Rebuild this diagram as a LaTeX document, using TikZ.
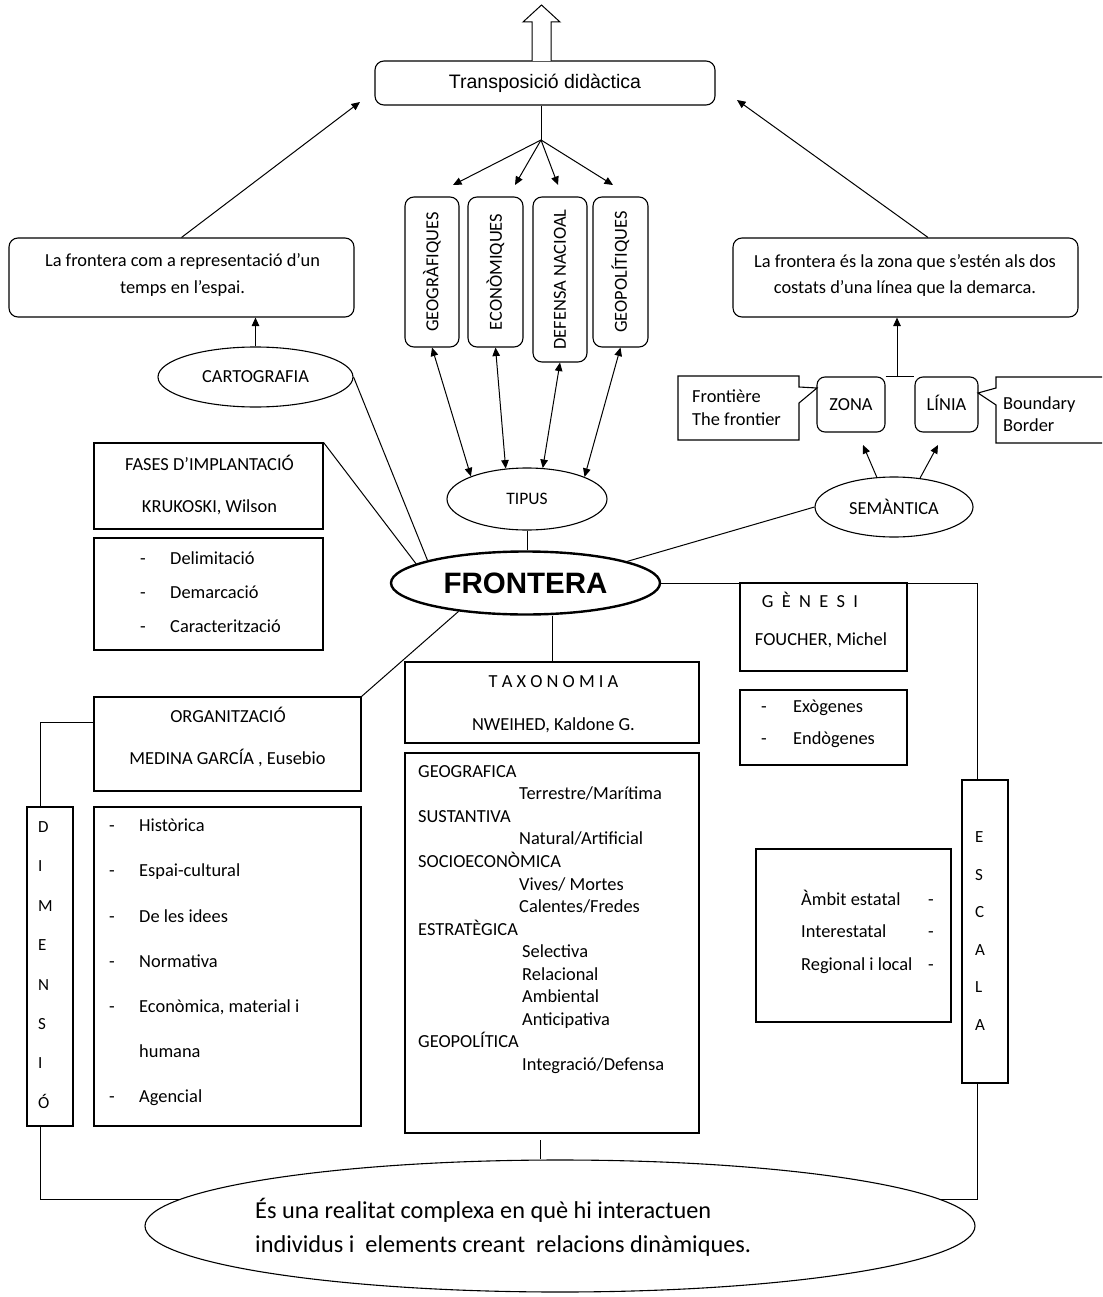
\documentclass[tikz,border=0pt]{standalone}
\usepackage{fontspec}
\setmainfont{Carlito}
\newfontfamily\arialf{Liberation Sans}
\usetikzlibrary{shapes.geometric,arrows.meta}
\begin{document}
\begin{tikzpicture}[x=1pt,y=-1pt,
  every node/.style={font=\fontsize{18.4}{22}\selectfont, inner sep=0pt},
  bx/.style={draw, line width=1.1pt},
  rbx/.style={draw, line width=1.1pt, rounded corners=9pt},
  ell/.style={draw, ellipse, line width=1.1pt},
  ln/.style={line width=1pt},
  arr/.style={line width=1pt, -{Triangle[length=8.5pt,width=7.5pt]}},
  darr/.style={line width=1pt, {Triangle[length=8.5pt,width=7.5pt]}-{Triangle[length=8.5pt,width=7.5pt]}},
]
\useasboundingbox (0,0) rectangle (1102,1297);

% ---------- top ----------
\node[rbx, minimum width=340pt, minimum height=44pt, font=\arialf\fontsize{19.5}{22}\selectfont] (tr) at (545,83) {Transposició didàctica};
\draw[line width=1pt, fill=white] (532,61) -- (532,22) -- (523,22) -- (541.5,5) -- (560,22) -- (551,22) -- (551,61);

\node[rbx, minimum width=54pt, minimum height=150pt] (g1) at (432,272) {\rotatebox{90}{GEOGRÀFIQUES}};
\node[rbx, minimum width=55pt, minimum height=150pt] (g2) at (495.5,272) {\rotatebox{90}{ECONÒMIQUES}};
\node[rbx, minimum width=54pt, minimum height=165pt] (g3) at (560,279.5) {\rotatebox{90}{DEFENSA NACIOAL}};
\node[rbx, minimum width=55pt, minimum height=150pt] (g4) at (620.5,272) {\rotatebox{90}{GEOPOLÍTIQUES}};

\coordinate (br) at (541,140);
\coordinate (a1) at (453,185);
\coordinate (a2) at (515,185);
\coordinate (a3) at (558,185);
\coordinate (a4) at (613,185);
\draw[ln] (tr.south -| br) -- (br);
\draw[arr] (br) -- (a1);
\draw[arr] (br) -- (a2);
\draw[arr] (br) -- (a3);
\draw[arr] (br) -- (a4);

% ---------- side boxes ----------
\node[rbx, minimum width=345pt, minimum height=79pt] (lbox) at (181.5,277.5) {};
\node[align=center, font=\fontsize{18.4}{26.5}\selectfont] (lboxt) at (182.5,275) {La frontera com a representació d’un\\temps en l’espai.};
\node[rbx, minimum width=345pt, minimum height=79pt] (rbox) at (905.5,277.5) {};
\node[align=center, font=\fontsize{18.4}{26.5}\selectfont] (rboxt) at (905,275.5) {La frontera és la zona que s’estén als dos\\costats d’una línea que la demarca.};

\coordinate (tl) at (360,102);
\coordinate (rs) at (928,0);
\coordinate (trr) at (737,100);
\draw[arr] (lbox.north) -- (tl);
\draw[arr] (rbox.north -| rs) -- (trr);

% ---------- ellipses ----------
\node[ell, minimum width=195pt, minimum height=60pt] (carto) at (255.5,377) {CARTOGRAFIA};
\node[ell, minimum width=160pt, minimum height=62pt, font=\fontsize{17.5}{22}\selectfont] (tipus) at (527,499) {TIPUS};
\node[ell, minimum width=158pt, minimum height=60pt] (sem) at (894,507) {SEMÀNTICA};
\node[ell, line width=2.4pt, minimum width=269pt, minimum height=63pt, font=\arialf\bfseries\fontsize{29.5}{30}\selectfont] (front) at (525.5,583) {FRONTERA};

\draw[arr] (carto.north) -- (carto.north |- lbox.south);
\draw[darr] (g1.south) -- (tipus.158);
\draw[darr] (g2.south) -- (tipus.125);
\draw[darr] (g3.south) -- (tipus.63);
\draw[darr] (g4.south) -- (tipus.21);
\draw[ln] (tipus.south) -- (tipus.south |- front.north);

% ---------- semantica ----------
\node[rbx, rounded corners=8pt, minimum width=68pt, minimum height=55pt, text height=12pt, text depth=0pt] (zona) at (851,404.5) {ZONA};
\node[rbx, rounded corners=8pt, minimum width=63pt, minimum height=55pt, text height=12pt, text depth=0pt] (linia) at (946.5,404.5) {LÍNIA};
\draw[ln] (zona.north east) -- (linia.north west);
\coordinate (jn) at (897,377);
\draw[arr] (jn) -- (jn |- rbox.south);
\coordinate (zt) at (863,445);
\coordinate (lt2) at (938,445);
\draw[arr] (sem.120) -- (zt);
\draw[arr] (sem.48) -- (lt2);

\draw[ln, line width=1.1pt] (799,387) -- (799,376) -- (678,376) -- (678,440) -- (799,440) -- (799,403) -- (817,388) -- cycle;
\node[anchor=west, align=left, font=\fontsize{18.4}{23}\selectfont] (frt) at (692,408) {Frontière\\The frontier};
\draw[ln, line width=1.1pt] (1102,377) -- (996,377) -- (996,388) -- (978,393) -- (996,405) -- (996,443) -- (1102,443);
\node[anchor=west, align=left, font=\fontsize{18.4}{22}\selectfont] (bnd) at (1003,414) {Boundary\\Border};

% ---------- fases ----------
\node[bx, minimum width=229pt, minimum height=86pt] (fases) at (208.5,486) {};
\node (fasest1) at (209.5,463) {FASES D’IMPLANTACIÓ};
\node (fasest2) at (209.5,507) {KRUKOSKI, Wilson};
\node[bx, minimum width=229pt, minimum height=112pt] (fasesl) at (208.5,594) {};
\node[anchor=west, align=left, font=\fontsize{18.4}{34}\selectfont] (fasesx) at (140,592) {\makebox[30pt][l]{-}Delimitació\\\makebox[30pt][l]{-}Demarcació\\\makebox[30pt][l]{-}Caracterització};

\draw[ln] (front.170) -- (fases.north east);
\draw[ln] (front.167) -- (carto.east);
\draw[ln] (front.12) -- (sem.west);

% ---------- organitzacio ----------
\node[bx, minimum width=267pt, minimum height=94pt] (org) at (227.5,744) {};
\node (orgt1) at (228,715) {ORGANITZACIÓ};
\node (orgt2) at (227.5,758) {MEDINA GARCÍA , Eusebio};
\node[bx, minimum width=267pt, minimum height=319pt] (orgl) at (227.5,966.5) {};
\node[anchor=west, align=left, font=\fontsize{18.4}{45.2}\selectfont] (orgx) at (109,962.5) {\makebox[30pt][l]{-}Històrica\\\makebox[30pt][l]{-}Espai-cultural\\\makebox[30pt][l]{-}De les idees\\\makebox[30pt][l]{-}Normativa\\\makebox[30pt][l]{-}Econòmica, material i\\\makebox[30pt][l]{}humana\\\makebox[30pt][l]{-}Agencial};
\node[bx, minimum width=46pt, minimum height=319pt] (dim) at (50,966.5) {};
\node[anchor=west, align=left, font=\fontsize{17}{39.4}\selectfont] (dimt) at (38,965) {D\\I\\M\\E\\N\\S\\I\\Ó};

\draw[ln] (front.203) -- (org.north east);
\coordinate (lx) at (40,722);
\draw[ln] (dim.north -| lx) -- (lx) -- (org.west |- lx);

% ---------- taxonomia ----------
\node[bx, minimum width=294pt, minimum height=81pt] (tax) at (552,702.5) {};
\node (taxt1) at (553.5,682) {T A X O N O M I A};
\node (taxt2) at (553.5,725) {NWEIHED, Kaldone G.};
\node[bx, minimum width=294pt, minimum height=380pt] (taxl) at (552,943) {};
\node[anchor=west, align=left, font=\fontsize{18.4}{22.55}\selectfont] (taxx) at (418,919.5) {GEOGRAFICA\\\hspace*{101pt}Terrestre/Marítima\\SUSTANTIVA\\\hspace*{101pt}Natural/Artificial\\SOCIOECONÒMICA\\\hspace*{101pt}Vives/ Mortes\\\hspace*{101pt}Calentes/Fredes\\ESTRATÈGICA\\\hspace*{104pt}Selectiva\\\hspace*{104pt}Relacional\\\hspace*{104pt}Ambiental\\\hspace*{104pt}Anticipativa\\GEOPOLÍTICA\\\hspace*{104pt}Integració/Defensa};
\draw[ln] (front.south -| tax.north) -- (tax.north);

% ---------- genesi ----------
\node[bx, minimum width=167pt, minimum height=88pt] (gen) at (823.5,627) {};
\node (gent1) at (810,600) {G~~È~~N~~E~~S~~I};
\node (gent2) at (821,640) {FOUCHER, Michel};
\node[bx, minimum width=167pt, minimum height=75pt] (genl) at (823.5,727.5) {};
\node[anchor=west, align=left, font=\fontsize{18.4}{32}\selectfont] (genx) at (761,724) {\makebox[32pt][l]{-}Exògenes\\\makebox[32pt][l]{-}Endògenes};

\node[bx, minimum width=195pt, minimum height=173pt] (amb) at (853.5,935.5) {};
\node[anchor=west, align=left, font=\fontsize{18.4}{32.5}\selectfont] (ambx) at (801,931.5) {\makebox[127pt][l]{Àmbit estatal}-\\\makebox[127pt][l]{Interestatal}-\\\makebox[127pt][l]{Regional i local}-};

\node[bx, minimum width=46pt, minimum height=303pt] (esc) at (985,931.5) {};
\node[anchor=west, align=left, font=\fontsize{17}{37.6}\selectfont] (esct) at (975,931) {E\\S\\C\\A\\L\\A};

\coordinate (rx) at (977,0);
\draw[ln] (front.east) -- (front.east -| rx) -- (esc.north -| rx);

% ---------- bottom ----------
\node[ell, minimum width=830pt, minimum height=132pt] (botell) at (560,1226) {};
\node[anchor=west, align=left, font=\fontsize{24.3}{34}\selectfont] (bott) at (255,1227) {És una realitat complexa en què hi interactuen\\individus i\ \ elements creant\ \ relacions dinàmiques.};
\draw[ln] (esc.south -| rx) |- (botell.4);
\draw[ln] (dim.south -| lx) |- (botell.176);
\coordinate (bx) at (540,1140);
\draw[ln] (bx) -- (bx |- botell.north);
\end{tikzpicture}
\end{document}
